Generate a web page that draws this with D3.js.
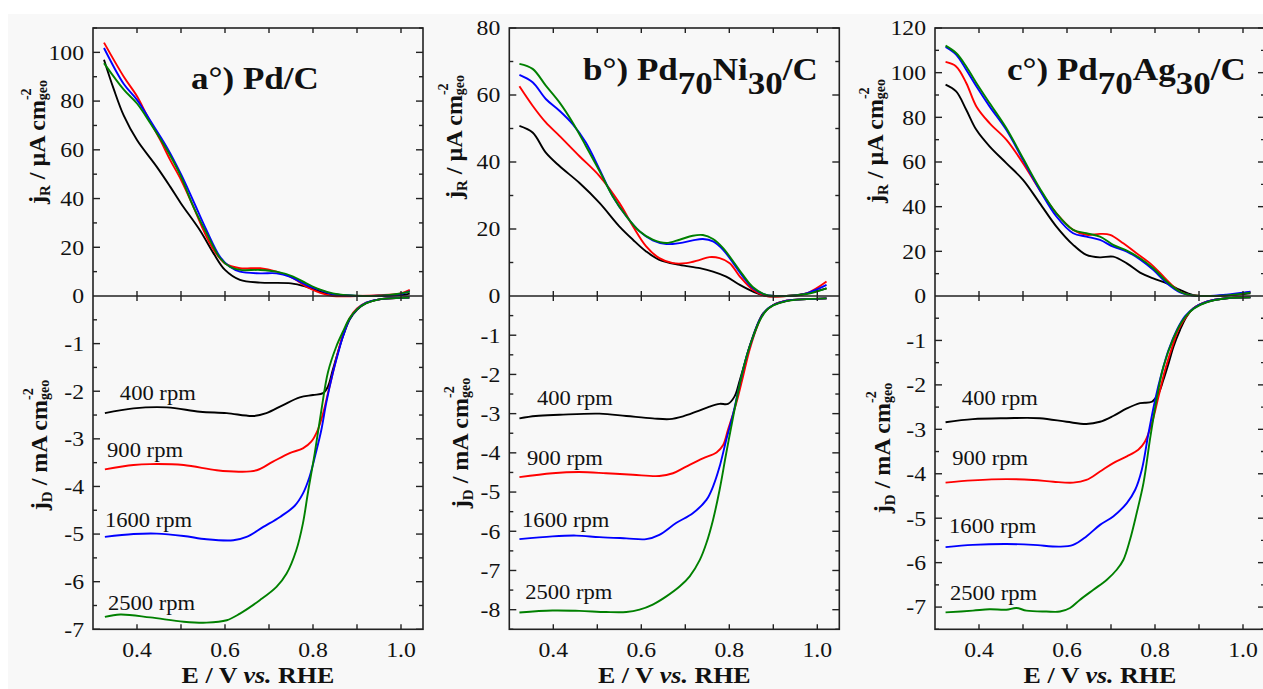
<!DOCTYPE html>
<html><head><meta charset="utf-8">
<script src="https://cdn.jsdelivr.net/npm/d3@7"></script>
<style>
html,body{margin:0;padding:0;background:#fff;}
svg{display:block;}
text{font-family:"Liberation Serif","Times New Roman",serif;fill:#111;}
</style>
</head><body>
<svg id="chart" width="1263" height="689"></svg>
<script>
// ---------------- DATA ----------------
const rpmLabels = ["400 rpm","900 rpm","1600 rpm","2500 rpm"];
const seriesColors = ["#000000","#ff0000","#0000ff","#008000"];
const xTickValues = [0.4,0.5,0.6,0.7,0.8,0.9,1.0];
const xTickLabels = ["0.4","","0.6","","0.8","","1.0"];

// Panel a: Pd/C  (E / V, j)
const aR400 = [[0.325,97],[0.347,85],[0.37,74],[0.4,64],[0.445,53],[0.475,45],[0.5,38],[0.543,27],[0.574,17.5],[0.6,10.7],[0.634,6.6],[0.68,5.5],[0.75,5.2],[0.785,3.8],[0.83,1.1],[0.86,0.4],[0.9,0],[0.95,0],[1.0,0.4],[1.02,1]];
const aR900 = [[0.325,104],[0.37,90],[0.4,82],[0.423,74],[0.453,64],[0.475,56],[0.5,47.7],[0.528,36.7],[0.551,27],[0.574,19],[0.6,13.4],[0.634,11.4],[0.68,11.4],[0.717,10],[0.755,7.3],[0.785,3.8],[0.815,1.4],[0.845,0],[0.9,0],[0.95,0.3],[1.0,1.1],[1.02,2.5]];
const aR1600 = [[0.325,101.8],[0.37,87],[0.4,80.5],[0.43,72],[0.468,61],[0.5,50],[0.528,39],[0.558,27],[0.589,16],[0.611,12],[0.634,10],[0.68,9.3],[0.717,9.3],[0.747,8],[0.785,4.5],[0.815,2.5],[0.845,0.8],[0.9,0],[0.95,0.1],[1.0,0.8],[1.02,2]];
const aR2500 = [[0.325,95.6],[0.37,84.7],[0.4,79],[0.43,71],[0.468,60],[0.5,49],[0.528,36.7],[0.558,25.8],[0.589,15.5],[0.611,12],[0.634,10.7],[0.68,10.7],[0.717,10],[0.755,8],[0.785,5.2],[0.815,2.7],[0.845,1.1],[0.9,0.1],[0.95,0.1],[1.0,1.1],[1.02,1.8]];
const aD400 = [[0.327,-2.46],[0.392,-2.36],[0.468,-2.34],[0.543,-2.43],[0.604,-2.46],[0.664,-2.52],[0.694,-2.46],[0.732,-2.29],[0.77,-2.13],[0.8,-2.08],[0.823,-2.04],[0.834,-1.9],[0.845,-1.55],[0.857,-1.17],[0.868,-0.85],[0.883,-0.5],[0.9,-0.29],[0.921,-0.15],[0.951,-0.07],[1.0,-0.04],[1.019,-0.035]];
const aD900 = [[0.327,-3.64],[0.392,-3.55],[0.43,-3.53],[0.506,-3.55],[0.581,-3.66],[0.634,-3.69],[0.672,-3.66],[0.709,-3.48],[0.747,-3.3],[0.777,-3.2],[0.796,-3.06],[0.811,-2.81],[0.823,-2.46],[0.834,-2.04],[0.845,-1.62],[0.857,-1.17],[0.868,-0.82],[0.883,-0.47],[0.9,-0.26],[0.921,-0.14],[0.951,-0.07],[1.0,-0.04],[1.019,-0.03]];
const aD1600 = [[0.327,-5.06],[0.392,-5.0],[0.445,-4.99],[0.506,-5.04],[0.558,-5.11],[0.619,-5.13],[0.649,-5.06],[0.687,-4.85],[0.725,-4.64],[0.758,-4.41],[0.777,-4.15],[0.792,-3.8],[0.808,-3.24],[0.819,-2.81],[0.83,-2.25],[0.845,-1.62],[0.857,-1.2],[0.868,-0.85],[0.883,-0.49],[0.9,-0.28],[0.921,-0.14],[0.951,-0.07],[1.0,-0.04],[1.019,-0.03]];
const aD2500 = [[0.327,-6.74],[0.362,-6.69],[0.43,-6.75],[0.506,-6.84],[0.558,-6.86],[0.604,-6.81],[0.634,-6.67],[0.679,-6.39],[0.717,-6.11],[0.74,-5.83],[0.762,-5.34],[0.777,-4.78],[0.789,-4.1],[0.804,-3.3],[0.819,-2.4],[0.834,-1.6],[0.853,-1.06],[0.868,-0.75],[0.883,-0.47],[0.9,-0.28],[0.921,-0.15],[0.951,-0.07],[1.0,-0.04],[1.019,-0.03]];

// Panel b: Pd70Ni30/C
const bR400 = [[0.323,50.8],[0.353,48.8],[0.383,42.8],[0.414,38.8],[0.459,33.8],[0.505,27.8],[0.55,20.8],[0.581,16.8],[0.611,13.3],[0.641,10.8],[0.687,9.3],[0.733,8.3],[0.763,7.3],[0.793,5.8],[0.824,3.3],[0.854,1.3],[0.884,0],[0.93,0],[0.976,0.8],[1.021,2.3]];
const bR900 = [[0.323,62.6],[0.353,56.8],[0.383,51.8],[0.414,47.8],[0.459,41.8],[0.505,35.8],[0.55,27.8],[0.581,20.8],[0.611,14.8],[0.641,11.3],[0.672,9.8],[0.702,9.8],[0.733,10.8],[0.755,11.6],[0.778,11.3],[0.801,9.8],[0.824,5.8],[0.854,1.8],[0.884,0],[0.93,0],[0.976,0.8],[1.021,4.3]];
const bR1600 = [[0.323,66],[0.353,63.8],[0.383,58.8],[0.414,55.3],[0.444,51.3],[0.474,45.8],[0.505,37.8],[0.535,29.8],[0.566,23.8],[0.596,19.3],[0.626,16.6],[0.657,15.5],[0.687,15.8],[0.717,16.6],[0.74,17],[0.763,16.3],[0.786,13.8],[0.809,9.8],[0.831,5.8],[0.854,2.3],[0.884,0.3],[0.93,0],[0.976,0.8],[1.021,3.3]];
const bR2500 = [[0.323,69.3],[0.353,67.8],[0.383,62.8],[0.414,57.8],[0.444,51.8],[0.474,44.8],[0.505,37.3],[0.535,29.8],[0.566,23.8],[0.596,19.3],[0.626,16.8],[0.657,15.8],[0.687,16.8],[0.717,18],[0.74,18.2],[0.763,17],[0.786,14.3],[0.809,10.3],[0.831,6.3],[0.854,2.6],[0.884,0.3],[0.93,0],[0.976,0.6],[1.021,2.3]];
const bD400 = [[0.323,-3.12],[0.36,-3.06],[0.414,-3.03],[0.505,-3.0],[0.566,-3.06],[0.626,-3.12],[0.664,-3.14],[0.695,-3.07],[0.725,-2.95],[0.755,-2.82],[0.778,-2.75],[0.797,-2.75],[0.812,-2.56],[0.824,-2.14],[0.835,-1.72],[0.846,-1.29],[0.862,-0.78],[0.877,-0.44],[0.9,-0.23],[0.93,-0.12],[0.976,-0.08],[1.021,-0.06]];
const bD900 = [[0.323,-4.62],[0.398,-4.52],[0.459,-4.49],[0.52,-4.52],[0.581,-4.56],[0.641,-4.59],[0.672,-4.52],[0.702,-4.35],[0.74,-4.14],[0.771,-3.99],[0.786,-3.8],[0.797,-3.41],[0.809,-2.99],[0.82,-2.56],[0.831,-2.06],[0.846,-1.38],[0.862,-0.82],[0.877,-0.46],[0.9,-0.23],[0.93,-0.12],[0.976,-0.08],[1.021,-0.06]];
const bD1600 = [[0.323,-6.2],[0.398,-6.13],[0.452,-6.11],[0.505,-6.15],[0.566,-6.18],[0.611,-6.2],[0.641,-6.09],[0.679,-5.79],[0.717,-5.54],[0.748,-5.2],[0.763,-4.86],[0.778,-4.35],[0.793,-3.67],[0.809,-2.99],[0.824,-2.23],[0.839,-1.55],[0.854,-1.04],[0.869,-0.61],[0.884,-0.36],[0.9,-0.23],[0.93,-0.12],[0.976,-0.08],[1.021,-0.06]];
const bD2500 = [[0.323,-8.07],[0.398,-8.02],[0.459,-8.03],[0.52,-8.06],[0.566,-8.06],[0.596,-8.0],[0.626,-7.87],[0.657,-7.66],[0.687,-7.41],[0.71,-7.15],[0.733,-6.73],[0.748,-6.3],[0.763,-5.71],[0.778,-4.94],[0.793,-4.01],[0.809,-3.07],[0.824,-2.23],[0.839,-1.55],[0.854,-1.04],[0.869,-0.63],[0.884,-0.37],[0.9,-0.24],[0.93,-0.13],[0.976,-0.08],[1.021,-0.06]];

// Panel c: Pd70Ag30/C
const cR400 = [[0.324,94.6],[0.348,91.6],[0.371,83.4],[0.394,74.4],[0.424,67],[0.462,59.5],[0.5,52],[0.538,41.6],[0.576,31.1],[0.614,22.9],[0.644,18.4],[0.675,17.3],[0.705,17.6],[0.736,14.6],[0.766,10.5],[0.796,7.9],[0.827,5.7],[0.857,2.7],[0.887,0.4],[0.918,0],[0.963,0.3],[1.017,1.2]];
const cR900 = [[0.324,104.8],[0.348,102.8],[0.371,95.4],[0.394,84.9],[0.424,77.4],[0.462,70],[0.5,59.5],[0.538,47.5],[0.576,37],[0.614,29.6],[0.644,27.4],[0.675,27.8],[0.698,27.4],[0.728,23.6],[0.758,19.1],[0.789,14.6],[0.812,10.2],[0.834,5.7],[0.857,1.9],[0.88,0.4],[0.918,0],[0.963,0.3],[1.017,1.8]];
const cR1600 = [[0.324,111.5],[0.348,108.1],[0.371,101.3],[0.394,93.9],[0.424,84.9],[0.462,74.4],[0.5,61],[0.538,47.5],[0.576,35.6],[0.614,28.1],[0.644,26.6],[0.675,25.1],[0.705,22.1],[0.736,19.9],[0.766,16.4],[0.796,11.7],[0.827,5.7],[0.857,1.6],[0.88,0.4],[0.918,0],[0.963,0.6],[1.017,1.9]];
const cR2500 = [[0.324,112.1],[0.348,108.8],[0.371,102.8],[0.394,95.4],[0.424,86.4],[0.462,75.2],[0.5,61.7],[0.538,48.3],[0.576,37],[0.614,29.6],[0.644,28.1],[0.675,26.6],[0.705,22.9],[0.736,20.3],[0.766,16.9],[0.796,12.4],[0.827,6.4],[0.857,1.9],[0.88,0.4],[0.918,0],[0.963,0.3],[1.017,1.5]];
const cD400 = [[0.324,-2.84],[0.386,-2.77],[0.462,-2.75],[0.538,-2.75],[0.599,-2.83],[0.644,-2.88],[0.675,-2.83],[0.705,-2.7],[0.736,-2.53],[0.766,-2.41],[0.793,-2.38],[0.808,-2.19],[0.819,-1.89],[0.831,-1.51],[0.842,-1.14],[0.857,-0.76],[0.872,-0.46],[0.887,-0.28],[0.918,-0.13],[0.963,-0.05],[1.017,-0.03]];
const cD900 = [[0.324,-4.2],[0.386,-4.15],[0.462,-4.12],[0.523,-4.14],[0.569,-4.18],[0.614,-4.2],[0.644,-4.14],[0.675,-3.95],[0.705,-3.76],[0.736,-3.61],[0.762,-3.46],[0.777,-3.28],[0.793,-2.86],[0.808,-2.26],[0.823,-1.66],[0.838,-1.18],[0.853,-0.76],[0.872,-0.45],[0.887,-0.28],[0.918,-0.13],[0.963,-0.05],[1.017,-0.03]];
const cD1600 = [[0.324,-5.65],[0.386,-5.6],[0.462,-5.58],[0.523,-5.6],[0.584,-5.64],[0.614,-5.6],[0.644,-5.41],[0.675,-5.15],[0.705,-4.96],[0.736,-4.66],[0.755,-4.36],[0.77,-3.91],[0.785,-3.1],[0.8,-2.35],[0.815,-1.74],[0.831,-1.21],[0.85,-0.76],[0.868,-0.46],[0.887,-0.28],[0.918,-0.13],[0.963,-0.05],[1.017,-0.03]];
const cD2500 = [[0.324,-7.12],[0.386,-7.08],[0.424,-7.05],[0.462,-7.06],[0.485,-7.02],[0.508,-7.08],[0.553,-7.1],[0.584,-7.1],[0.607,-7.02],[0.629,-6.84],[0.66,-6.61],[0.69,-6.39],[0.713,-6.16],[0.728,-5.94],[0.743,-5.49],[0.758,-4.9],[0.774,-4.2],[0.789,-3.2],[0.804,-2.3],[0.819,-1.6],[0.842,-0.95],[0.861,-0.58],[0.88,-0.35],[0.903,-0.2],[0.933,-0.1],[0.963,-0.05],[1.017,-0.03]];

// rpm label anchors (E, j)
const aLabelPos = [[0.361,-2.18],[0.332,-3.38],[0.327,-4.85],[0.334,-6.6]];
const bLabelPos = [[0.363,-2.78],[0.340,-4.31],[0.329,-5.88],[0.336,-7.74]];
const cLabelPos = [[0.361,-2.45],[0.339,-3.80],[0.332,-5.33],[0.334,-6.83]];

// axis ranges / tick labels
const aRingTicks = [20,40,60,80,100], bRingTicks = [20,40,60,80], cRingTicks = [20,40,60,80,100,120];
const aDiskTicks = [-1,-2,-3,-4,-5,-6,-7], bDiskTicks = [-1,-2,-3,-4,-5,-6,-7,-8], cDiskTicks = [-1,-2,-3,-4,-5,-6,-7];

// ---------------- LAYOUT ----------------
const svg = d3.select("#chart");
svg.append("rect").attr("x",8).attr("y",14).attr("width",1255).attr("height",675).attr("fill","#f8f8f8");

const SX = 1.13;
const yTop = 28, yZero = 296, yBot = 629.3, PW = 330;
const FRAME = "#222";

const panels = [
  {x0:93, ringMax:110, diskMin:-7, ringTicks:aRingTicks, diskTicks:aDiskTicks,
   ring:[aR400,aR900,aR1600,aR2500], disk:[aD400,aD900,aD1600,aD2500], lab:aLabelPos,
   title:[["a°) Pd/C",0]], titleX:191, titleY:89, topLblY:142, topLblDx:-48, botLblY:445, botLblDx:-46},
  {x0:509.3, ringMax:80, diskMin:-8.5, ringTicks:bRingTicks, diskTicks:bDiskTicks,
   ring:[bR400,bR900,bR1600,bR2500], disk:[bD400,bD900,bD1600,bD2500], lab:bLabelPos,
   title:[["b°) Pd",0],["70",1],["Ni",0],["30",1],["/C",0]], titleX:583, titleY:80, topLblY:137, topLblDx:-47.5, botLblY:443, botLblDx:-41},
  {x0:935, ringMax:120, diskMin:-7.5, ringTicks:cRingTicks, diskTicks:cDiskTicks,
   ring:[cR400,cR900,cR1600,cR2500], disk:[cD400,cD900,cD1600,cD2500], lab:cLabelPos,
   title:[["c°) Pd",0],["70",1],["Ag",0],["30",1],["/C",0]], titleX:1007, titleY:80, topLblY:141, topLblDx:-52, botLblY:448, botLblDx:-45}
];

function line(x, y){
  return d3.line().x(d=>x(d[0])).y(d=>y(d[1])).curve(d3.curveCatmullRom.alpha(0.5));
}

function yLabel(g, cx, cy, sym, unit){
  const t = g.append("text").attr("transform",`translate(${cx},${cy}) rotate(-90)`)
    .attr("text-anchor","middle").attr("font-weight","bold").attr("font-size",24);
  t.append("tspan").text("j");
  t.append("tspan").attr("font-size",15).attr("dy",5).text(sym);
  t.append("tspan").attr("dy",-5).text(" / " + unit + " cm");
  t.append("tspan").attr("font-size",14).attr("dy",-14).text("-2");
  t.append("tspan").attr("font-size",14).attr("dx",-11.7).attr("dy",16).text("geo");
}

panels.forEach((p)=>{
  const g = svg.append("g");
  const x = d3.scaleLinear().domain([0.3,1.05]).range([p.x0, p.x0+PW]);
  const yR = d3.scaleLinear().domain([0,p.ringMax]).range([yZero,yTop]);
  const yD = d3.scaleLinear().domain([p.diskMin,0]).range([yBot,yZero]);
  const x1 = p.x0+PW;

  p.ring.forEach((s,i)=> g.append("path").attr("d",line(x,yR)(s)).attr("fill","none")
      .attr("stroke",seriesColors[i]).attr("stroke-width",1.9));
  p.disk.forEach((s,i)=> g.append("path").attr("d",line(x,yD)(s)).attr("fill","none")
      .attr("stroke",seriesColors[i]).attr("stroke-width",1.9));

  g.append("rect").attr("x",p.x0).attr("y",yTop).attr("width",PW).attr("height",yBot-yTop)
    .attr("fill","none").attr("stroke",FRAME).attr("stroke-width",1.6);
  g.append("line").attr("x1",p.x0).attr("x2",x1).attr("y1",yZero).attr("y2",yZero)
    .attr("stroke",FRAME).attr("stroke-width",1.6);

  const tk = g.append("g").attr("stroke",FRAME).attr("stroke-width",1.4);
  xTickValues.forEach(v=>{
    const xx = x(v);
    tk.append("line").attr("x1",xx).attr("x2",xx).attr("y1",yTop).attr("y2",yTop+5);
    tk.append("line").attr("x1",xx).attr("x2",xx).attr("y1",yBot).attr("y2",yBot-5);
    tk.append("line").attr("x1",xx).attr("x2",xx).attr("y1",yZero-5).attr("y2",yZero+5);
  });
  const ringMajor = d3.range(20, p.ringMax+0.01, 20);
  const ringMinor = d3.range(10, p.ringMax+0.01, 20);
  [[ringMajor,7],[ringMinor,4]].forEach(([arr,len])=>arr.forEach(v=>{
    const yy = yR(v);
    tk.append("line").attr("x1",p.x0).attr("x2",p.x0+len).attr("y1",yy).attr("y2",yy);
    tk.append("line").attr("x1",x1).attr("x2",x1-len).attr("y1",yy).attr("y2",yy);
  }));
  const diskMajor = d3.range(-1, p.diskMin-0.01, -1);
  const diskMinor = d3.range(-0.5, p.diskMin-0.01, -1);
  [[diskMajor,7],[diskMinor,4]].forEach(([arr,len])=>arr.forEach(v=>{
    const yy = yD(v);
    tk.append("line").attr("x1",p.x0).attr("x2",p.x0+len).attr("y1",yy).attr("y2",yy);
    tk.append("line").attr("x1",x1).attr("x2",x1-len).attr("y1",yy).attr("y2",yy);
  }));

  const fs = 21;
  const lbl = (txt, tx, ty, anchor)=> g.append("text")
    .attr("transform",`translate(${tx},${ty}) scale(${SX},1)`)
    .attr("text-anchor",anchor).attr("font-size",fs).attr("dy","0.35em").text(txt);
  p.ringTicks.forEach(v=> lbl(String(v), p.x0-9, yR(v), "end"));
  lbl("0", p.x0-9, yZero, "end");
  p.diskTicks.forEach(v=> lbl(String(v), p.x0-9, yD(v), "end"));
  xTickValues.forEach((v,i)=>{ if(xTickLabels[i]) g.append("text")
    .attr("transform",`translate(${x(v)},${657}) scale(${SX},1)`)
    .attr("text-anchor","middle").attr("font-size",fs).text(xTickLabels[i]); });

  const xt = g.append("text").attr("transform",`translate(${(p.x0+x1)/2},683) scale(${SX},1)`)
    .attr("text-anchor","middle").attr("font-size",23).attr("font-weight","bold");
  xt.append("tspan").text("E / V ");
  xt.append("tspan").attr("font-style","italic").text("vs.");
  xt.append("tspan").text(" RHE");

  yLabel(g, p.x0+p.topLblDx, p.topLblY, "R", "µA");
  yLabel(g, p.x0+p.botLblDx, p.botLblY, "D", "mA");

  const tt = g.append("text").attr("transform",`translate(${p.titleX},${p.titleY}) scale(${SX},1)`)
    .attr("font-size",31).attr("font-weight","bold");
  let prevSub = 0;
  p.title.forEach(([s,sub])=>{
    tt.append("tspan").attr("dy", (sub-prevSub)*14).text(s);
    prevSub = sub;
  });

  p.lab.forEach((d,i)=> g.append("text")
    .attr("transform",`translate(${x(d[0])},${yD(d[1])}) scale(${SX},1)`)
    .attr("font-size",20).text(rpmLabels[i]));
});
</script>
</body></html>
